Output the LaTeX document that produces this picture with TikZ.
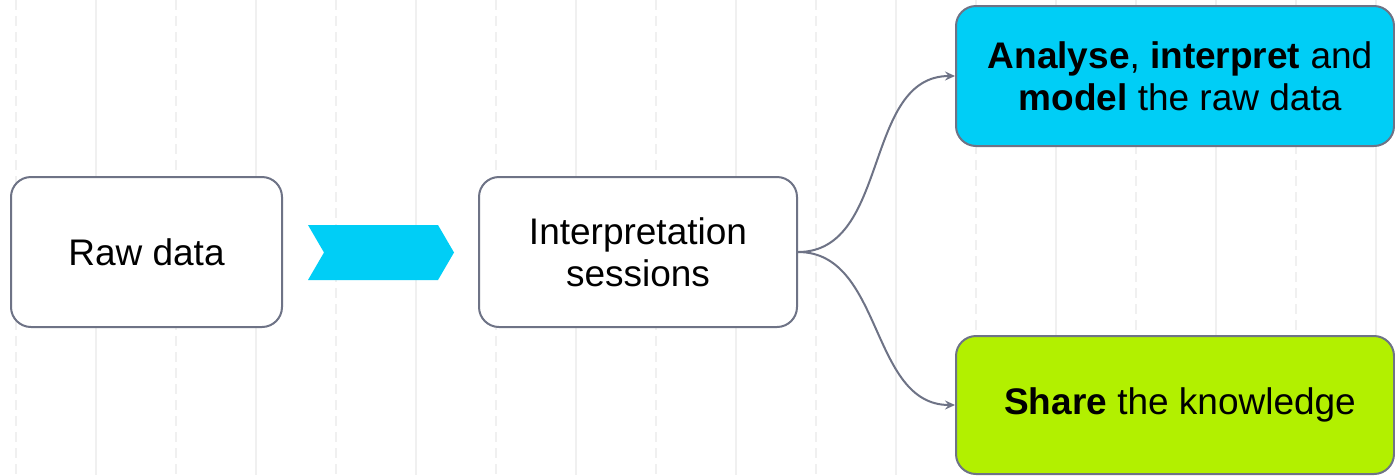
\documentclass[tikz,border=0pt]{standalone}
\usepackage{fontspec}
\setmainfont{Liberation Sans}
\usetikzlibrary{arrows.meta}
\definecolor{edgegray}{HTML}{6E7386}
\definecolor{gridgray}{HTML}{F0F0F0}
\definecolor{skyfill}{HTML}{00CEF6}
\definecolor{limefill}{HTML}{B2F000}
\tikzset{
  box/.style={draw=edgegray, line width=2pt, rounded corners=20pt, fill=white,
    align=center, inner sep=0pt, font=\fontsize{37}{42}\selectfont},
  gridsolid/.style={draw=gridgray, line width=2pt},
  griddash/.style={draw=gridgray, line width=2pt, dash pattern=on 10pt off 6pt},
  link/.style={draw=edgegray, line width=2pt,
    -{Stealth[length=10pt,width=9pt,inset=3.5pt]}},
}
\begin{document}
\begin{tikzpicture}[x=1pt,y=-1pt]
  \useasboundingbox (0,0) rectangle (1395,475);
  \fill[white] (0,0) rectangle (1395,475);
  % background guide lines, every 80pt, alternating dashed and solid
  \foreach \i in {0,...,17} {
    \pgfmathsetmacro{\gx}{16+80*\i}
    \ifodd\i
      \draw[gridsolid] (\gx,0) -- (\gx,475);
    \else
      \draw[griddash] (\gx,0) -- (\gx,475);
    \fi
  }
  % process boxes
  \node[box, minimum width=271pt, minimum height=150pt] (raw) at (146.5,252) {Raw data};
  \node[box, minimum width=318pt, minimum height=150pt] (interp) at (638,252) {Interpretation\\sessions};
  \node[box, fill=skyfill, minimum width=438pt, minimum height=140pt] (analyse) at (1175,76)
    {\hspace*{10pt}\textbf{Analyse}, \textbf{interpret} and\\\hspace*{10pt}\textbf{model} the raw data};
  \node[box, fill=limefill, minimum width=438pt, minimum height=138pt] (share) at (1175,405)
    {\hspace*{10pt}\textbf{Share} the knowledge};
  % chevron between the first two boxes
  \fill[skyfill] (308,225) -- (438,225) -- (454,252.5) -- (438,280) -- (308,280) -- (324,252.5) -- cycle;
  % branching connectors
  \draw[link] (interp.east) to[out=0, in=180] (analyse.west);
  \draw[link] (interp.east) to[out=0, in=180] (share.west);
\end{tikzpicture}
\end{document}
